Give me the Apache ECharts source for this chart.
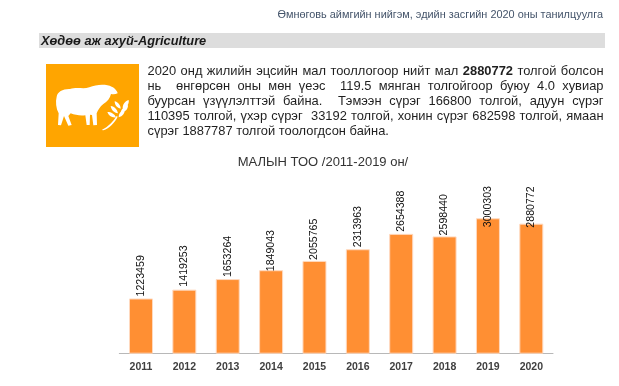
<!DOCTYPE html>
<html><head><meta charset="utf-8">
<style>html,body{margin:0;padding:0;background:#fff}#c{width:619px;height:386px;filter:blur(0.35px)}</style>
<script src="https://cdn.jsdelivr.net/npm/echarts@6/dist/echarts.min.js"></script>
</head><body><div id="c"></div>
<script>
const years = ['2011','2012','2013','2014','2015','2016','2017','2018','2019','2020'];
const livestock = [1223459,1419253,1653264,1849043,2055765,2313963,2654388,2598440,3000303,2880772];
const labelDrop = [0,-1,0,3,1,0,0,1,11,6];
const headerText = 'Өмнөговь аймгийн нийгэм, эдийн засгийн 2020 оны танилцуулга';
const sectionText = 'Хөдөө аж ахуй-Agriculture';
const chartTitle = 'МАЛЫН ТОО /2011-2019 он/';
const paragraph = [
  '2020 онд жилийн эцсийн мал тооллогоор нийт мал *2880772* толгой болсон',
  'нь  өнгөрсөн оны мөн үеэс  119.5 мянган толгойгоор буюу 4.0 хувиар',
  'буурсан үзүүлэлттэй байна.  Тэмээн сүрэг 166800 толгой, адуун сүрэг',
  '110395 толгой, үхэр сүрэг  33192 толгой, хонин сүрэг 682598 толгой, ямаан',
  'сүрэг 1887787 толгой тоологдсон байна.'
];
const FONT = '"Liberation Sans", Arial, sans-serif';
const ctx = document.createElement('canvas').getContext('2d');
function justified(line, y, left, right, justify){
  const size = 12.9, out = [];
  const tokens = line.split(/(\s+)/);
  const words = [];
  let spaces = 0, units = 0;
  tokens.forEach(t=>{
    if(!t) return;
    if(/^\s+$/.test(t)){ spaces = t.length; return; }
    const bold = t.startsWith('*');
    words.push({w:t.replace(/\*/g,''),bold,before:spaces});
    units += spaces; spaces = 0;
  });
  const width = o => { ctx.font=(o.bold?'bold ':'')+size+'px "Liberation Sans"'; return ctx.measureText(o.w).width; };
  const total = words.reduce((a,o)=>a+width(o),0);
  const gap = justify ? (right-left-total)/units : 3.6;
  let x = left;
  words.forEach(o=>{
    x += o.before*gap;
    out.push({type:'text',x,y,style:{text:o.w,font:(o.bold?'bold ':'')+size+'px '+FONT,fill:'#1f1f1f',textVerticalAlign:'middle'}});
    x += width(o);
  });
  return out;
}
const paraLines = [71.3,86,101.3,116,131.3];
const paraEls = paragraph.flatMap((l,i)=>justified(l,paraLines[i],147.5,603.5,i<4));
const sheep = 'M20 50 C22 35 40 26 60 27 C80 20 100 28 118 22 C140 12 170 12 185 20 C195 24 203 35 203 40 C197 43 190 44 183 42 C180 55 172 65 160 72 C150 80 144 90 140 100 L141 135 L130 136 L126 105 L120 104 L119 135 L110 135 L106 106 C90 108 75 105 62 100 L55 108 L65 135 L55 137 L42 108 L33 136 L24 135 L26 100 C18 85 16 65 20 50 Z';
const wheat = 'M155 150 C175 140 190 125 200 108 L203 110 C195 128 178 144 160 151 Z M198 112 C186 114 176 108 172 96 C184 96 194 102 198 112 Z M204 100 C192 98 184 90 182 78 C194 80 202 88 204 100 Z M212 86 C202 84 194 76 194 64 C204 66 212 76 212 86 Z M206 112 C206 102 212 92 224 88 C226 98 218 110 206 112 Z M212 98 C214 88 222 78 234 76 C234 88 226 96 212 98 Z M218 84 C218 74 224 64 236 60 C238 70 232 82 218 84 Z';
echarts.graphic.registerShape('sheepIcon', echarts.graphic.extendPath(sheep,{}));
echarts.graphic.registerShape('wheatIcon', echarts.graphic.extendPath(wheat,{}));
const chart = echarts.init(document.getElementById('c'),null,{renderer:'canvas'});
chart.setOption({
  animation:false,
  title:{text:chartTitle,left:318,top:151,textAlign:'center',textStyle:{fontFamily:FONT,fontSize:13,fontWeight:'normal',color:'#333'}},
  grid:{left:119.3,right:66,top:195.7,height:158},
  xAxis:{type:'category',data:years,axisTick:{show:false},
    axisLine:{lineStyle:{color:'#b8b8b8',width:1}},
    axisLabel:{fontFamily:FONT,fontSize:10.5,fontWeight:'bold',color:'#404040',margin:8}},
  yAxis:{type:'value',min:0,max:3500000,show:false,splitLine:{show:false}},
  series:[{type:'bar',barWidth:24,
    data:livestock.map((v,i)=>({value:v,label:{offset:[-labelDrop[i],0]}})),
    itemStyle:{color:'#FF8F33',borderColor:'#FFD9BF',borderWidth:1},
    label:{show:true,position:'top',rotate:90,distance:2,align:'left',verticalAlign:'middle',
      fontFamily:FONT,fontSize:10.6,color:'#111'}}],
  graphic:{elements:[
    {type:'text',x:603,y:15,style:{text:headerText,font:'10.9px '+FONT,fill:'#44546A',textAlign:'right',textVerticalAlign:'middle'}},
    {type:'rect',shape:{x:39,y:33,width:566,height:15},style:{fill:'#DDDDDD'}},
    {type:'text',x:41,y:41,style:{text:sectionText,font:'italic bold 12.8px '+FONT,fill:'#1a1a1a',textVerticalAlign:'middle'}},
    {type:'rect',shape:{x:46,y:64,width:93,height:83},style:{fill:'#FFA500'}},
    {type:'sheepIcon',x:50,y:80,scaleX:1/3,scaleY:1/3,style:{fill:'#fff'}},
    {type:'wheatIcon',x:50,y:80,scaleX:1/3,scaleY:1/3,style:{fill:'#fff'}},
    ...paraEls
  ]}
});
</script></body></html>
